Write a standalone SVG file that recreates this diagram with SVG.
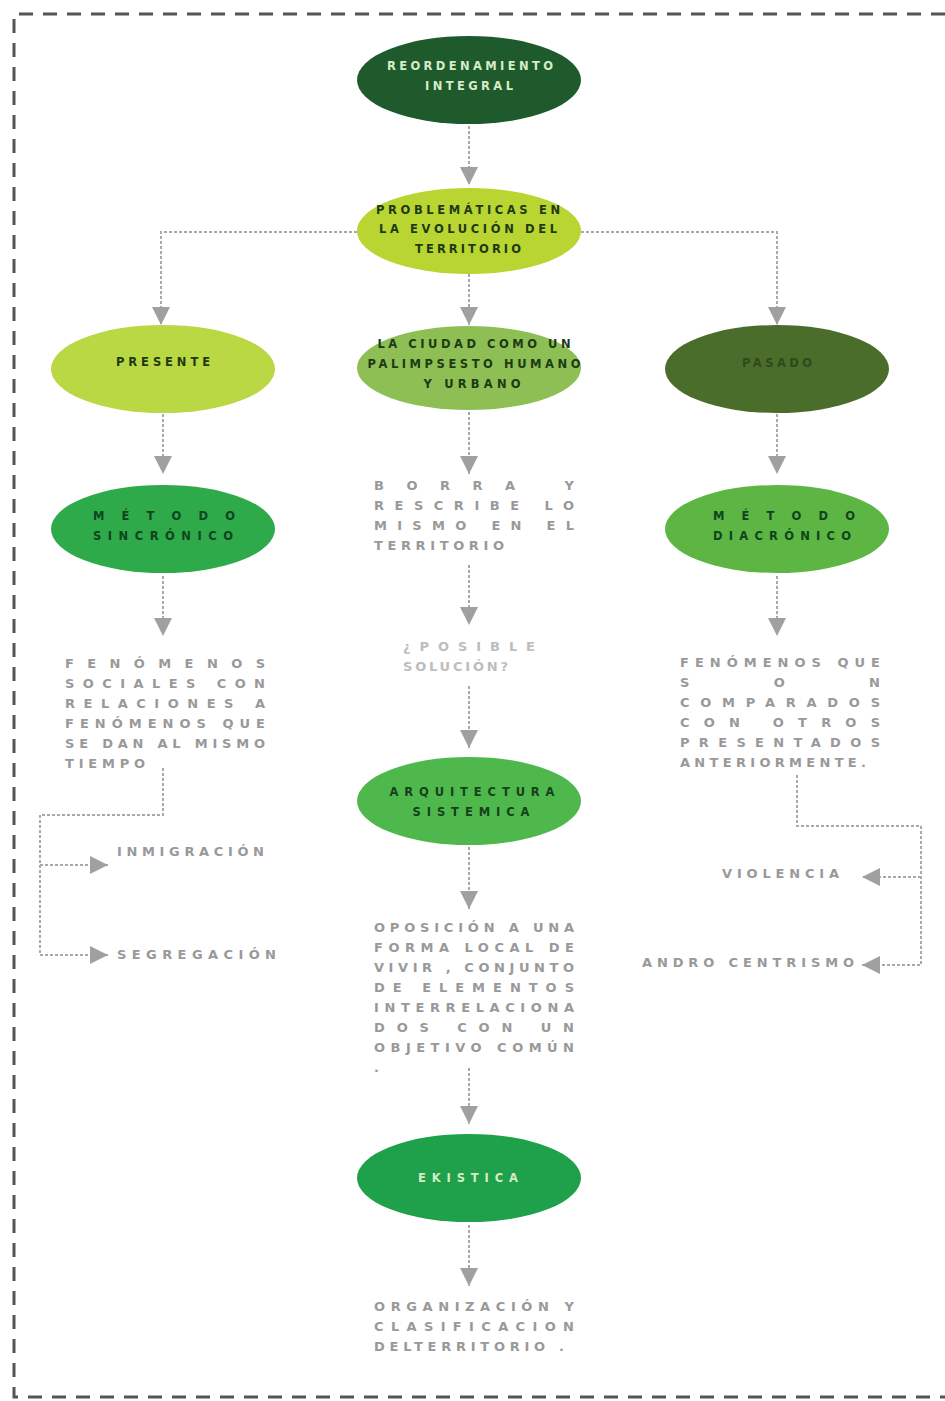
<svg xmlns="http://www.w3.org/2000/svg" width="945" height="1401" viewBox="0 0 945 1401">
<style>
.frame{fill:none;stroke:#555;stroke-width:3;stroke-dasharray:14 10}
.con{fill:none;stroke:#a8a8a8;stroke-width:2;stroke-dasharray:3 2}
.et{font-family:"DejaVu Sans",sans-serif;font-weight:bold;font-size:11.5px;text-anchor:middle}
.dk{fill:#1d3a12}
.lt{fill:#d6ecc6}
.gt{font-family:"DejaVu Sans",sans-serif;font-weight:bold;font-size:13px;fill:#999}
.pale{fill:#bdbdbd}
</style>
<defs>
<marker id="ah" markerUnits="userSpaceOnUse" markerWidth="20" markerHeight="20" viewBox="0 0 20 20" refX="18" refY="10" orient="auto">
<path d="M0,1 L18,10 L0,19 Z" fill="#a0a0a0"/>
</marker>
</defs>
<rect width="945" height="1401" fill="#fff"/>
<g id="frame">
<path class="frame" d="M945,14 H14 V1397 H945"/>
</g>
<g id="connectors">
<line class="con" x1="469" y1="126" x2="469" y2="185" marker-end="url(#ah)"/>
<line class="con" x1="469" y1="274" x2="469" y2="325" marker-end="url(#ah)"/>
<path class="con" d="M357,232 H161 V325" marker-end="url(#ah)"/>
<path class="con" d="M581,232 H777 V325" marker-end="url(#ah)"/>
<line class="con" x1="163" y1="414" x2="163" y2="474" marker-end="url(#ah)"/>
<line class="con" x1="469" y1="412" x2="469" y2="474" marker-end="url(#ah)"/>
<line class="con" x1="777" y1="414" x2="777" y2="474" marker-end="url(#ah)"/>
<line class="con" x1="163" y1="576" x2="163" y2="636" marker-end="url(#ah)"/>
<line class="con" x1="469" y1="565" x2="469" y2="625" marker-end="url(#ah)"/>
<line class="con" x1="777" y1="576" x2="777" y2="636" marker-end="url(#ah)"/>
<line class="con" x1="469" y1="686" x2="469" y2="748" marker-end="url(#ah)"/>
<line class="con" x1="469" y1="847" x2="469" y2="909" marker-end="url(#ah)"/>
<line class="con" x1="469" y1="1068" x2="469" y2="1124" marker-end="url(#ah)"/>
<line class="con" x1="469" y1="1225" x2="469" y2="1286" marker-end="url(#ah)"/>
<path class="con" d="M163,768 V815 H40 V955 H108" marker-end="url(#ah)"/>
<path class="con" d="M40,865 H108" marker-end="url(#ah)"/>
<path class="con" d="M797,775 V826 H921 V965 H862" marker-end="url(#ah)"/>
<path class="con" d="M921,877 H862" marker-end="url(#ah)"/>
</g>
<g id="n-reordenamiento">
<ellipse cx="469" cy="80" rx="112" ry="44" fill="#1e5a2c"/>
<text class="et lt" x="470" y="70" textLength="166" lengthAdjust="spacing">REORDENAMIENTO</text>
<text class="et lt" x="469" y="90" textLength="88" lengthAdjust="spacing">INTEGRAL</text>
</g>
<g id="n-problematicas">
<ellipse cx="469" cy="231" rx="112" ry="43" fill="#b9d532"/>
<text class="et dk" x="468" y="214" textLength="184" lengthAdjust="spacing">PROBLEMÁTICAS EN</text>
<text class="et dk" x="468" y="233" textLength="178" lengthAdjust="spacing">LA EVOLUCIÓN DEL</text>
<text class="et dk" x="468" y="253" textLength="106" lengthAdjust="spacing">TERRITORIO</text>
</g>
<g id="n-presente">
<ellipse cx="163" cy="369" rx="112" ry="44" fill="#bad744"/>
<text class="et dk" x="163" y="366" textLength="94" lengthAdjust="spacing">PRESENTE</text>
</g>
<g id="n-ciudad">
<ellipse cx="469" cy="368" rx="112" ry="42" fill="#8dbf55"/>
<text class="et dk" x="474" y="348" textLength="193" lengthAdjust="spacing">LA CIUDAD COMO UN</text>
<text class="et dk" x="474" y="368" textLength="213" lengthAdjust="spacing">PALIMPSESTO HUMANO</text>
<text class="et dk" x="472" y="388" textLength="97" lengthAdjust="spacing">Y URBANO</text>
</g>
<g id="n-pasado">
<ellipse cx="777" cy="369" rx="112" ry="44" fill="#4a6d2b"/>
<text class="et" x="777" y="367" fill="#30491a" textLength="70" lengthAdjust="spacing">PASADO</text>
</g>
<g id="n-sincronico">
<ellipse cx="163" cy="529" rx="112" ry="44" fill="#2eaa4b"/>
<text class="et" x="164" y="520" fill="#0f4420" textLength="142" lengthAdjust="spacing">MÉTODO</text>
<text class="et" x="163" y="540" fill="#0f4420" textLength="140" lengthAdjust="spacing">SINCRÓNICO</text>
</g>
<g id="n-borra">
<text class="gt" x="374" y="490" textLength="200" lengthAdjust="spacing">BORRA Y</text>
<text class="gt" x="374" y="510" textLength="200" lengthAdjust="spacing">RESCRIBE LO</text>
<text class="gt" x="374" y="530" textLength="200" lengthAdjust="spacing">MISMO EN EL</text>
<text class="gt" x="374" y="550" textLength="130" lengthAdjust="spacing">TERRITORIO</text>
</g>
<g id="n-diacronico">
<ellipse cx="777" cy="529" rx="112" ry="44" fill="#5db544"/>
<text class="et" x="784" y="520" fill="#0f4420" textLength="142" lengthAdjust="spacing">MÉTODO</text>
<text class="et" x="782" y="540" fill="#0f4420" textLength="138" lengthAdjust="spacing">DIACRÓNICO</text>
</g>
<g id="n-fenomenos-sociales">
<text class="gt" x="65" y="668" textLength="200" lengthAdjust="spacing">FENÓMENOS</text>
<text class="gt" x="65" y="688" textLength="200" lengthAdjust="spacing">SOCIALES CON</text>
<text class="gt" x="65" y="708" textLength="200" lengthAdjust="spacing">RELACIONES A</text>
<text class="gt" x="65" y="728" textLength="200" lengthAdjust="spacing">FENÓMENOS QUE</text>
<text class="gt" x="65" y="748" textLength="200" lengthAdjust="spacing">SE DAN AL MISMO</text>
<text class="gt" x="65" y="768" textLength="80" lengthAdjust="spacing">TIEMPO</text>
</g>
<g id="n-posible">
<text class="gt pale" x="403" y="651" textLength="132" lengthAdjust="spacing">¿POSIBLE</text>
<text class="gt pale" x="403" y="671" textLength="105" lengthAdjust="spacing">SOLUCIÓN?</text>
</g>
<g id="n-fenomenos-comparados">
<text class="gt" x="680" y="667" textLength="200" lengthAdjust="spacing">FENÓMENOS QUE</text>
<text class="gt" x="680" y="687" textLength="200" lengthAdjust="spacing">SON</text>
<text class="gt" x="680" y="707" textLength="200" lengthAdjust="spacing">COMPARADOS</text>
<text class="gt" x="680" y="727" textLength="200" lengthAdjust="spacing">CON OTROS</text>
<text class="gt" x="680" y="747" textLength="200" lengthAdjust="spacing">PRESENTADOS</text>
<text class="gt" x="680" y="767" textLength="186" lengthAdjust="spacing">ANTERIORMENTE.</text>
</g>
<g id="n-inmigracion">
<text class="gt" x="117" y="856" textLength="147" lengthAdjust="spacing">INMIGRACIÓN</text>
</g>
<g id="n-segregacion">
<text class="gt" x="117" y="959" textLength="159" lengthAdjust="spacing">SEGREGACIÓN</text>
</g>
<g id="n-violencia">
<text class="gt" x="722" y="878" textLength="117" lengthAdjust="spacing">VIOLENCIA</text>
</g>
<g id="n-androcentrismo">
<text class="gt" x="642" y="967" textLength="212" lengthAdjust="spacing">ANDRO CENTRISMO</text>
</g>
<g id="n-arquitectura">
<ellipse cx="469" cy="801" rx="112" ry="44" fill="#4fb84c"/>
<text class="et" x="472" y="796" fill="#15421a" textLength="165" lengthAdjust="spacing">ARQUITECTURA</text>
<text class="et" x="471" y="816" fill="#15421a" textLength="117" lengthAdjust="spacing">SISTEMICA</text>
</g>
<g id="n-oposicion">
<text class="gt" x="374" y="932" textLength="200" lengthAdjust="spacing">OPOSICIÓN A UNA</text>
<text class="gt" x="374" y="952" textLength="200" lengthAdjust="spacing">FORMA LOCAL DE</text>
<text class="gt" x="374" y="972" textLength="200" lengthAdjust="spacing">VIVIR , CONJUNTO</text>
<text class="gt" x="374" y="992" textLength="200" lengthAdjust="spacing">DE ELEMENTOS</text>
<text class="gt" x="374" y="1012" textLength="200" lengthAdjust="spacing">INTERRELACIONA</text>
<text class="gt" x="374" y="1032" textLength="200" lengthAdjust="spacing">DOS CON UN</text>
<text class="gt" x="374" y="1052" textLength="200" lengthAdjust="spacing">OBJETIVO COMÚN</text>
<text class="gt" x="374" y="1072">.</text>
</g>
<g id="n-ekistica">
<ellipse cx="469" cy="1178" rx="112" ry="44" fill="#1fa04a"/>
<text class="et lt" x="468" y="1182" textLength="100" lengthAdjust="spacing">EKISTICA</text>
</g>
<g id="n-organizacion">
<text class="gt" x="374" y="1311" textLength="200" lengthAdjust="spacing">ORGANIZACIÓN Y</text>
<text class="gt" x="374" y="1331" textLength="200" lengthAdjust="spacing">CLASIFICACION</text>
<text class="gt" x="374" y="1351" textLength="190" lengthAdjust="spacing">DELTERRITORIO .</text>
</g>
</svg>
